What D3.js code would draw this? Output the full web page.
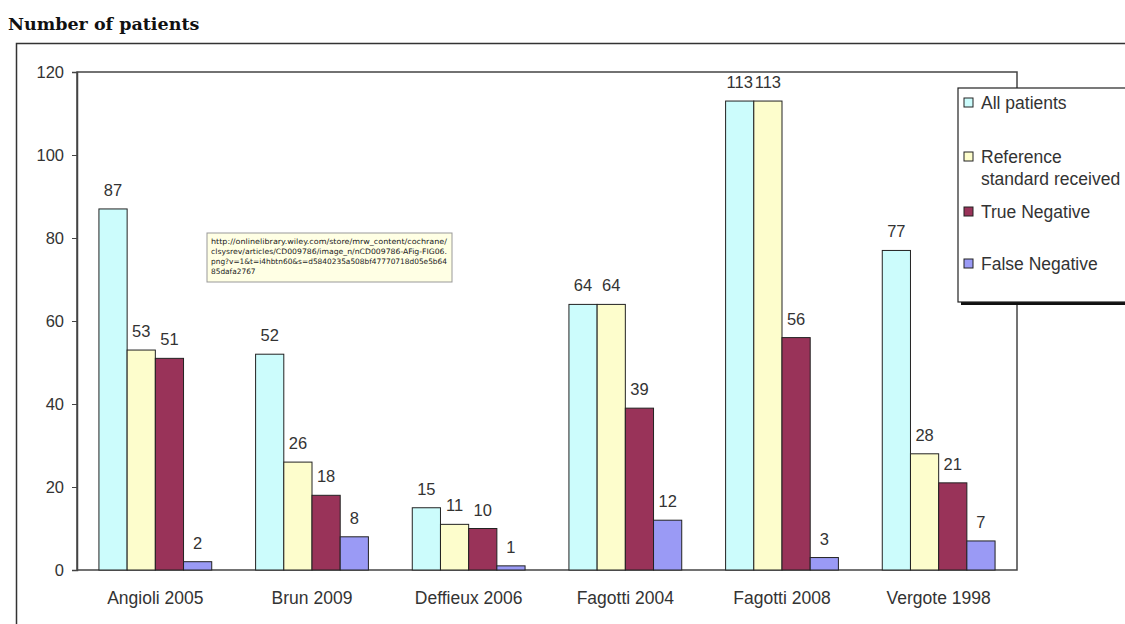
<!DOCTYPE html>
<html>
<head>
<meta charset="utf-8">
<script src="https://cdn.jsdelivr.net/npm/d3@7"></script>
<style>
  body { margin: 0; background: #fff; }
  svg { display: block; }
</style>
</head>
<body>
<svg id="chart" width="1125" height="624"></svg>
<script>
const categories = ["Angioli 2005", "Brun 2009", "Deffieux 2006", "Fagotti 2004", "Fagotti 2008", "Vergote 1998"];
const seriesNames = ["All patients", "Reference standard received", "True Negative", "False Negative"];
const allPatients = [87, 52, 15, 64, 113, 77];
const referenceReceived = [53, 26, 11, 64, 113, 28];
const trueNegative = [51, 18, 10, 39, 56, 21];
const falseNegative = [2, 8, 1, 12, 3, 7];
const yTicks = [0, 20, 40, 60, 80, 100, 120];

const series = [allPatients, referenceReceived, trueNegative, falseNegative];
const colors = ["#ccfcfc", "#fdfdcc", "#993359", "#9a9af5"];

const svg = d3.select("#chart");
const font = "Arial, 'Liberation Sans', sans-serif";

// title
svg.append("text")
    .attr("x", 8).attr("y", 30)
    .attr("font-family", "'DejaVu Serif', serif")
    .attr("font-weight", "bold")
    .attr("font-size", 17.5)
    .attr("fill", "#111")
    .text("Number of patients");

// outer frame (cut off at right and bottom)
svg.append("path")
    .attr("d", "M16.5,630 L16.5,43.5 L1130,43.5")
    .attr("fill", "none")
    .attr("stroke", "#333")
    .attr("stroke-width", 1.5);

const plot = { left: 77, right: 1017, top: 72, bottom: 570 };

const x0 = d3.scaleBand()
    .domain(categories)
    .range([plot.left, plot.right])
    .paddingInner(0.28)
    .paddingOuter(0.14);

const x1 = d3.scaleBand()
    .domain(d3.range(series.length))
    .range([0, x0.bandwidth()]);

const y = d3.scaleLinear().domain([0, 120]).range([plot.bottom, plot.top]);

// plot area border
svg.append("rect")
    .attr("x", plot.left).attr("y", plot.top)
    .attr("width", plot.right - plot.left)
    .attr("height", plot.bottom - plot.top)
    .attr("fill", "none")
    .attr("stroke", "#444")
    .attr("stroke-width", 1.5);

// y axis
const yAxis = svg.append("g")
    .attr("transform", `translate(${plot.left},0)`)
    .call(d3.axisLeft(y).tickValues(yTicks).tickSize(5).tickPadding(8));
yAxis.select(".domain").attr("stroke", "#444").attr("stroke-width", 1.5);
yAxis.selectAll(".tick line").attr("stroke", "#444");
yAxis.selectAll("text")
    .attr("font-family", font).attr("font-size", 16.5).attr("fill", "#333");

// x axis labels
svg.append("g").selectAll("text")
    .data(categories)
    .enter().append("text")
    .attr("x", d => x0(d) + x0.bandwidth() / 2)
    .attr("y", 604)
    .attr("text-anchor", "middle")
    .attr("font-family", font).attr("font-size", 17.5).attr("fill", "#333")
    .text(d => d);

// bars
const groups = svg.append("g").selectAll("g")
    .data(categories)
    .enter().append("g")
    .attr("transform", d => `translate(${x0(d)},0)`);

groups.selectAll("rect")
    .data((d, i) => series.map((s, k) => ({ k, v: s[i] })))
    .enter().append("rect")
    .attr("x", d => x1(d.k))
    .attr("y", d => y(d.v))
    .attr("width", x1.bandwidth())
    .attr("height", d => y(0) - y(d.v))
    .attr("fill", d => colors[d.k])
    .attr("stroke", "#222")
    .attr("stroke-width", 1);

groups.selectAll("text")
    .data((d, i) => series.map((s, k) => ({ k, v: s[i] })))
    .enter().append("text")
    .attr("x", d => x1(d.k) + x1.bandwidth() / 2)
    .attr("y", d => y(d.v) - 13)
    .attr("text-anchor", "middle")
    .attr("font-family", font).attr("font-size", 16.5).attr("fill", "#333")
    .text(d => d.v);

// url tooltip
const tip = svg.append("g").attr("transform", "translate(207,233)");
tip.append("rect")
    .attr("width", 245).attr("height", 49)
    .attr("fill", "#ffffe4").attr("stroke", "#999");
const tipLines = [
    "http://onlinelibrary.wiley.com/store/mrw_content/cochrane/",
    "clsysrev/articles/CD009786/image_n/nCD009786-AFig-FIG06.",
    "png?v=1&t=i4hbtn60&s=d5840235a508bf47770718d05e5b64",
    "85dafa2767"
];
tip.selectAll("text")
    .data(tipLines)
    .enter().append("text")
    .attr("x", 4)
    .attr("y", (d, i) => 11 + i * 10)
    .attr("font-family", "'DejaVu Sans', sans-serif")
    .attr("font-size", 7.4)
    .attr("fill", "#222")
    .attr("textLength", d => d.length > 20 ? 236 : null)
    .attr("lengthAdjust", "spacingAndGlyphs")
    .text(d => d);

// legend
const legend = svg.append("g").attr("transform", "translate(958,88)");
legend.append("rect")
    .attr("x", 3).attr("y", 3).attr("width", 200).attr("height", 214)
    .attr("fill", "#111");
legend.append("rect")
    .attr("width", 200).attr("height", 214)
    .attr("fill", "#fff").attr("stroke", "#222").attr("stroke-width", 1.2);

const legendRows = [
    { lines: ["All patients"], y: 15 },
    { lines: ["Reference", "standard received"], y: 69 },
    { lines: ["True Negative"], y: 124 },
    { lines: ["False Negative"], y: 176 }
];
legendRows.forEach((r, i) => {
    legend.append("rect")
        .attr("x", 6).attr("y", r.y - 5)
        .attr("width", 9).attr("height", 9)
        .attr("fill", colors[i]).attr("stroke", "#222");
    r.lines.forEach((t, j) => {
        legend.append("text")
            .attr("x", 23).attr("y", r.y + 6 + j * 22)
            .attr("font-family", font).attr("font-size", 17.5).attr("fill", "#333")
            .text(t);
    });
});
</script>
</body>
</html>
